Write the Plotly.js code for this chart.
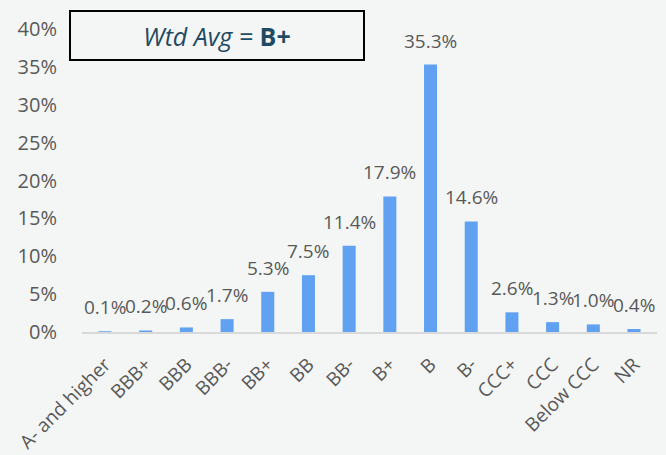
<!DOCTYPE html>
<html>
<head>
<meta charset="utf-8">
<script src="https://cdn.plot.ly/plotly-3.0.1.min.js"></script>
<style>html,body{margin:0;padding:0;background:#f4f6f5;}</style>
</head>
<body>
<div id="chart" style="width:666px;height:455px;"></div>
<script>
const categories = ["A- and higher","BBB+","BBB","BBB-","BB+","BB","BB-","B+","B","B-","CCC+","CCC","Below CCC","NR"];
const values = [0.001,0.002,0.006,0.017,0.053,0.075,0.114,0.179,0.353,0.146,0.026,0.013,0.010,0.004];
const valueLabels = ["0.1%","0.2%","0.6%","1.7%","5.3%","7.5%","11.4%","17.9%","35.3%","14.6%","2.6%","1.3%","1.0%","0.4%"];
const yTickVals = [0,0.05,0.10,0.15,0.20,0.25,0.30,0.35,0.40];
const yTickText = ["0%","5%","10%","15%","20%","25%","30%","35%","40%"];
const boxText = "<i>Wtd Avg = </i><b>B+</b>";

const font = "Open Sans, sans-serif";
const grey = "#595959";

const annotations = categories.map((c,i)=>({
  x: c, y: values[i], xref:'x', yref:'y',
  text: valueLabels[i], showarrow:false,
  yanchor:'middle', xanchor:'center', yshift:24,
  font:{family:font,size:19,color:grey}
}));
annotations.push({
  xref:'paper', yref:'paper', x:0.2348, y:0.9785,
  xanchor:'center', yanchor:'middle',
  text: boxText, showarrow:false,
  width:292, height:47, borderpad:0,
  bordercolor:'#000000', borderwidth:2, bgcolor:'#f4f6f5',
  font:{family:font,size:25,color:'#1f4a63'}
});

Plotly.newPlot('chart',[{
  type:'bar', x:categories, y:values,
  marker:{color:'#60a1f1'}, hoverinfo:'none'
}],{
  width:666, height:455,
  paper_bgcolor:'#f4f6f5', plot_bgcolor:'#f4f6f5',
  margin:{l:82,r:9,t:29,b:123},
  bargap:0.68,
  showlegend:false,
  xaxis:{
    type:'category', tickangle:-45, showgrid:false, zeroline:false,
    showline:true, linecolor:'#d9d9d9', linewidth:2, ticks:'',
    ticklabelstandoff:12,
    tickfont:{family:font,size:19,color:grey}
  },
  yaxis:{
    range:[0,0.4], tickvals:yTickVals, ticktext:yTickText,
    showgrid:false, zeroline:false, showline:false, ticks:'',
    ticklabelstandoff:24,
    tickfont:{family:font,size:20,color:grey}
  },
  annotations: annotations
},{displayModeBar:false,staticPlot:true});
</script>
</body>
</html>
